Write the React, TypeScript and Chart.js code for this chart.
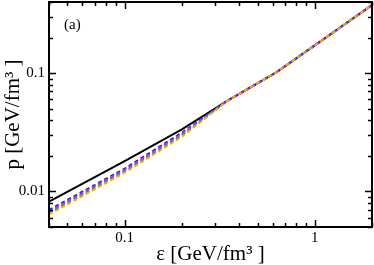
import React, { useEffect, useRef } from "react";
import { Chart, registerables } from "chart.js";

Chart.register(...registerables);

const energy = [0.04, 0.1, 0.2, 0.35, 0.63, 1, 2];
const pBlack = [0.0082, 0.018, 0.0335, 0.059, 0.102, 0.172, 0.377];
const pBlue = [0.00697, 0.0156, 0.0314, 0.059, 0.102, 0.172, 0.377];
const pMagenta = [0.00677, 0.0152, 0.0306, 0.059, 0.102, 0.172, 0.377];
const pGreen = [0.00657, 0.0148, 0.0298, 0.059, 0.102, 0.172, 0.377];
const pOrange = [0.00638, 0.0144, 0.029, 0.059, 0.102, 0.172, 0.377];

const xLabels: Record<string, string> = { "-1": "0.1", "0": "1" };
const yLabels: Record<string, string> = { "-2": "0.01", "-1": "0.1" };

const SERIF = "'Liberation Serif', 'DejaVu Serif', serif";

function labelFor(map: Record<string, string>, v: number): string {
  const l = Math.log10(v);
  const r = Math.round(l);
  if (Math.abs(l - r) < 1e-6 && map[String(r)] !== undefined) return map[String(r)];
  return "";
}

function tickValues(min: number, max: number): { v: number; major: boolean }[] {
  const out: { v: number; major: boolean }[] = [];
  for (let e = Math.floor(Math.log10(min)); e <= Math.ceil(Math.log10(max)); e++) {
    for (let m = 1; m <= 9; m++) {
      const v = m * Math.pow(10, e);
      if (v >= min * 0.9999 && v <= max * 1.0001) out.push({ v, major: m === 1 });
    }
  }
  return out;
}

const framePlugin = {
  id: "frameTicks",
  afterDraw(chart: any) {
    const { ctx, chartArea } = chart;
    const { left, right, top, bottom } = chartArea;
    const xs = chart.scales.x;
    const ys = chart.scales.y;
    ctx.save();
    ctx.strokeStyle = "#000";
    ctx.lineWidth = 1.5;
    ctx.beginPath();
    for (const t of tickValues(xs.min, xs.max)) {
      const px = Math.round(xs.getPixelForValue(t.v)) + 0.5;
      const len = t.major ? 7 : 4;
      ctx.moveTo(px, bottom);
      ctx.lineTo(px, bottom - len);
      ctx.moveTo(px, top);
      ctx.lineTo(px, top + len);
    }
    for (const t of tickValues(ys.min, ys.max)) {
      const py = Math.round(ys.getPixelForValue(t.v)) + 0.5;
      const len = t.major ? 7 : 4;
      ctx.moveTo(left, py);
      ctx.lineTo(left + len, py);
      ctx.moveTo(right, py);
      ctx.lineTo(right - len, py);
    }
    ctx.stroke();
    ctx.lineWidth = 2;
    ctx.strokeRect(left, top, right - left, bottom - top);
    ctx.fillStyle = "#000";
    ctx.font = "15px " + SERIF;
    ctx.textAlign = "left";
    ctx.textBaseline = "middle";
    ctx.fillText("(a)", left + 15, top + 23);
    ctx.restore();
  },
};

function ds(label: string, data: number[], color: string, dashed: boolean) {
  return {
    label,
    data: energy.map((x, i) => ({ x, y: data[i] })),
    borderColor: color,
    backgroundColor: color,
    borderWidth: 2,
    borderDash: dashed ? [4, 3] : [],
    pointRadius: 0,
    tension: 0,
    fill: false,
  };
}

export default function App() {
  const ref = useRef<HTMLCanvasElement | null>(null);
  useEffect(() => {
    if (!ref.current) return;
    const chart = new Chart(ref.current, {
      type: "line",
      data: {
        datasets: [
          ds("orange", pOrange, "#f5a623", true),
          ds("green", pGreen, "#2ca02c", true),
          ds("magenta", pMagenta, "#e020e0", true),
          ds("blue", pBlue, "#2020ff", true),
          ds("black", pBlack, "#000000", false),
        ],
      },
      options: {
        animation: false,
        responsive: false,
        devicePixelRatio: 1,
        layout: { padding: { top: 2, right: 2, left: 0, bottom: 0 } },
        plugins: { legend: { display: false }, tooltip: { enabled: false } },
        scales: {
          x: {
            type: "logarithmic",
            min: 0.04,
            max: 2,
            grid: { display: false, drawTicks: false },
            border: { display: false },
            afterFit: (s: any) => {
              s.height = 38;
              s.paddingLeft = 0;
              s.paddingRight = 0;
            },
            ticks: {
              autoSkip: false,
              maxRotation: 0,
              padding: 2,
              color: "#000",
              font: { family: SERIF, size: 15 },
              callback: (v: any) => labelFor(xLabels, Number(v)),
            },
            title: {
              display: true,
              text: "ε [GeV/fm³ ]",
              color: "#000",
              font: { family: SERIF, size: 21 },
              padding: { top: 0, bottom: -2 },
            },
          },
          y: {
            type: "logarithmic",
            min: 0.005,
            max: 0.4,
            grid: { display: false, drawTicks: false },
            border: { display: false },
            afterFit: (s: any) => {
              s.width = 49;
              s.paddingTop = 0;
              s.paddingBottom = 0;
            },
            ticks: {
              autoSkip: false,
              padding: 4,
              color: "#000",
              font: { family: SERIF, size: 15 },
              callback: (v: any) => labelFor(yLabels, Number(v)),
            },
            title: {
              display: true,
              text: "p [GeV/fm³ ]",
              color: "#000",
              font: { family: SERIF, size: 21 },
              padding: { top: 1, bottom: 0 },
            },
          },
        },
      },
      plugins: [framePlugin],
    });
    return () => chart.destroy();
  }, []);
  return (
    <div style={{ position: "absolute", left: 0, top: 0, width: 374, height: 265, background: "#fff" }}>
      <canvas ref={ref} width={374} height={265} style={{ width: 374, height: 265, display: "block" }} />
    </div>
  );
}
